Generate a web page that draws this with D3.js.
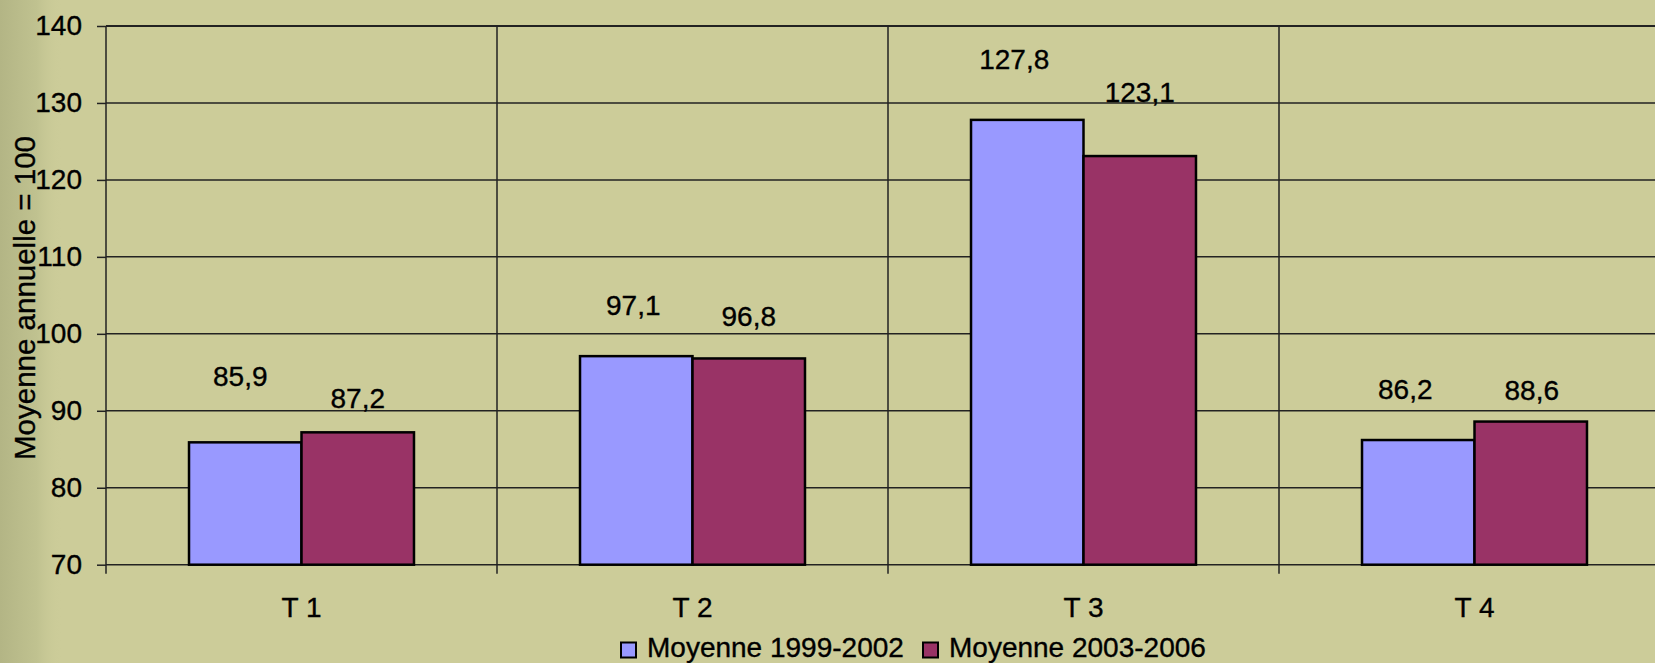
<!DOCTYPE html>
<html>
<head>
<meta charset="utf-8" />
<title>Moyenne annuelle = 100</title>
<script src="https://d3js.org/d3.v7.min.js"></script>
<style>
    body { margin: 0; background: #cccc99; overflow: hidden; }
    svg { display: block; font-family: "Liberation Sans", Arial, sans-serif; }
    text { stroke: #000; stroke-width: 0.35px; }
</style>
</head>
<body>
<svg id="chart" width="1655" height="663"></svg>
<script>
// data
const categories = ["T 1", "T 2", "T 3", "T 4"];
const seriesNames = ["Moyenne 1999-2002", "Moyenne 2003-2006"];
const moy1999 = [85.9, 97.1, 127.8, 86.2];
const moy2003 = [87.2, 96.8, 123.1, 88.6];
const yTicks = [70, 80, 90, 100, 110, 120, 130, 140];

// layout: label nudges (px) as placed in the original
const labelLift = [[56, 24], [41, 32], [51, 54], [41, 22]];
const labelShiftX = [[-5, 0], [-3, 0], [-13, 0], [-13, 1]];

const colors = ["#9999ff", "#993366"];
const svg = d3.select("#chart");
const W = 1655, H = 663;
const margin = { top: 26, left: 106 };
const plotRight = 1670, plotBottom = 564.7;

// background shade on the left edge
const defs = svg.append("defs");
const grad = defs.append("linearGradient").attr("id", "leftShade")
    .attr("x1", 0).attr("x2", 1).attr("y1", 0).attr("y2", 0);
grad.append("stop").attr("offset", "0%").attr("stop-color", "#b3b585");
grad.append("stop").attr("offset", "60%").attr("stop-color", "#c0c290");
grad.append("stop").attr("offset", "100%").attr("stop-color", "#cccc99").attr("stop-opacity", 0);
svg.append("rect").attr("width", W).attr("height", H).attr("fill", "#cccc99");
svg.append("rect").attr("width", 62).attr("height", H).attr("fill", "url(#leftShade)");

const y = d3.scaleLinear().domain([70, 140]).range([plotBottom, margin.top]);
const x0 = d3.scaleBand().domain(categories).range([margin.left, plotRight]).padding(0);
const x1 = d3.scaleBand().domain(seriesNames).range([0, x0.bandwidth()])
    .paddingInner(0).paddingOuter(0.738);

const fmt = d3.formatLocale({ decimal: ",", thousands: " ", grouping: [3], currency: ["", ""] }).format(".1f");

// y axis ticks and labels
const yAxis = svg.append("g").attr("transform", `translate(${margin.left},0)`)
    .call(d3.axisLeft(y).tickValues(yTicks).tickSize(9).tickPadding(15).tickFormat(d3.format("d")));
yAxis.select(".domain").remove();
yAxis.selectAll("line").attr("stroke", "#222").attr("stroke-width", 1.5);
yAxis.selectAll("text").attr("fill", "#000").attr("font-size", 28)
    .attr("font-family", "Liberation Sans, Arial, sans-serif");

// horizontal gridlines
svg.append("g").selectAll("line").data(yTicks).join("line")
    .attr("x1", margin.left).attr("x2", W)
    .attr("y1", d => y(d)).attr("y2", d => y(d))
    .attr("stroke", "#222").attr("stroke-width", d => d === 140 ? 2 : 1.5);

// vertical lines between categories + left axis
const bounds = categories.map(c => x0(c));
svg.append("g").selectAll("line").data(bounds).join("line")
    .attr("x1", d => d).attr("x2", d => d)
    .attr("y1", margin.top).attr("y2", plotBottom + 9)
    .attr("stroke", "#222").attr("stroke-width", 1.5);

// bars
const rows = categories.map((c, i) => ({ cat: c, i, vals: [moy1999[i], moy2003[i]] }));
const groups = svg.append("g").selectAll("g").data(rows).join("g")
    .attr("transform", d => `translate(${x0(d.cat)},0)`);

groups.selectAll("rect").data(d => d.vals.map((v, k) => ({ v, k }))).join("rect")
    .attr("x", d => x1(seriesNames[d.k]))
    .attr("width", x1.bandwidth())
    .attr("y", d => y(d.v))
    .attr("height", d => plotBottom - y(d.v))
    .attr("fill", d => colors[d.k])
    .attr("stroke", "#000").attr("stroke-width", 2.5);

// value labels
groups.selectAll("text").data(d => d.vals.map((v, k) => ({ v, k, i: d.i }))).join("text")
    .attr("x", d => x1(seriesNames[d.k]) + x1.bandwidth() / 2 + labelShiftX[d.i][d.k])
    .attr("y", d => y(d.v) - labelLift[d.i][d.k])
    .attr("text-anchor", "middle").attr("font-size", 28).attr("fill", "#000")
    .text(d => fmt(d.v));

// category labels
svg.append("g").selectAll("text").data(categories).join("text")
    .attr("x", d => x0(d) + x0.bandwidth() / 2)
    .attr("y", 616.5)
    .attr("text-anchor", "middle").attr("font-size", 28).attr("fill", "#000")
    .text(d => d);

// y axis title
svg.append("text")
    .attr("transform", "translate(34.5,298) rotate(-90)")
    .attr("text-anchor", "middle").attr("font-size", 29.5).attr("fill", "#000")
    .text("Moyenne annuelle = 100");

// legend
const legendX = [621, 923];
const legend = svg.append("g").selectAll("g").data(seriesNames).join("g")
    .attr("transform", (d, i) => `translate(${legendX[i]},642.5)`);
legend.append("rect").attr("width", 15).attr("height", 15)
    .attr("fill", (d, i) => colors[i]).attr("stroke", "#000").attr("stroke-width", 2);
legend.append("text").attr("x", 26).attr("y", 14.2)
    .attr("font-size", 28).attr("fill", "#000").text(d => d);
</script>
</body>
</html>
